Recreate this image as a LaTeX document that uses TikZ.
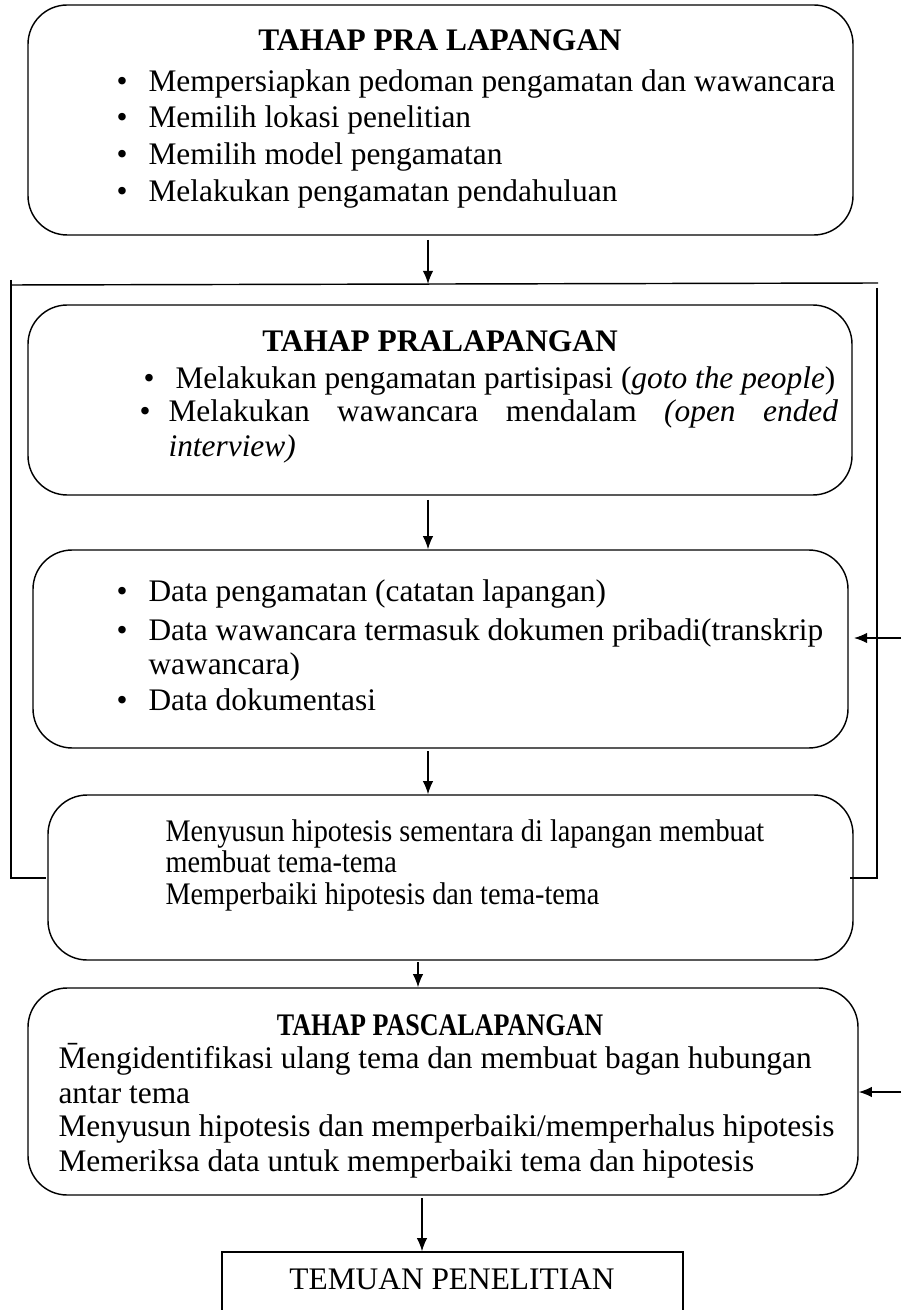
\documentclass[tikz,border=0pt]{standalone}
\usepackage{fontspec}
\setmainfont{Liberation Serif}
\usetikzlibrary{arrows.meta,fit}
\begin{document}
\begin{tikzpicture}[x=0.3823pt,y=-0.3823pt,
  box/.style={draw,line width=0.55pt,rounded corners=15pt,inner sep=0pt},
  plainbox/.style={draw,line width=0.55pt,inner sep=0pt},
  txt/.style={anchor=mid west,inner sep=0pt,font=\fontsize{12}{13.8}\selectfont},
  ttl/.style={anchor=mid,inner sep=0pt,font=\fontsize{12}{13.8}\selectfont\bfseries},
  arr/.style={line width=0.55pt,-{Latex[length=5pt,width=4pt]}},
  frm/.style={line width=0.55pt}]
\useasboundingbox (0,0) rectangle (901,1310);
% boxes
\node[box,fit={(28,5) (853,235)}] (b1) {};
\node[box,fit={(28,305) (852,495)}] (b2) {};
\node[box,fit={(33,550) (848,748)}] (b3) {};
\node[box,fit={(48,795) (853,960)}] (b4) {};
\node[box,fit={(28,988) (858,1195)}] (b5) {};
\node[plainbox,fit={(222,1252) (683,1340)}] (b6) {};
% frame (feedback loop)
\coordinate (ftl) at (11,285);
\coordinate (ftr) at (878,283);
\coordinate (fbl) at (11,878);
\coordinate (fblend) at (46,878);
\coordinate (frt) at (877,288);
\coordinate (fbr) at (877,878);
\coordinate (fbrend) at (850,878);
\coordinate (fa1) at (428,284);
\draw[frm] (11,280) -- (fbl) -- (fblend);
\draw[frm] (ftl) -- (ftr);
\draw[frm] (frt) -- (fbr) -- (fbrend);
% vertical connectors
\coordinate (a1s) at (428,240);
\coordinate (a2s) at (428,500);
\coordinate (a3s) at (428,751);
\coordinate (a4s) at (418,962);
\coordinate (a5s) at (422,1198);
\draw[arr] (a1s) -- (fa1);
\draw[arr] (a2s) -- (b3.north -| a2s);
\draw[arr] (a3s) -- (b4.north -| a3s);
\draw[arr] (a4s) -- (b5.north -| a4s);
\draw[arr] (a5s) -- (b6.north -| a5s);
% side connectors
\coordinate (r1) at (901,638);
\coordinate (r2) at (901,1092);
\draw[arr,shorten >=2pt] (r1) -- (b3.east |- r1);
\draw[arr] (r2) -- (b5.east |- r2);
% box 1 text
\node[ttl] (t1) at (440,45) {TAHAP PRA LAPANGAN};
\node[txt] (k11) at (116,86) {\textbullet};
\node[txt] (k12) at (116,122) {\textbullet};
\node[txt] (k13) at (116,159) {\textbullet};
\node[txt] (k14) at (116,196) {\textbullet};
\node[txt] (l11) at (148,86) {Mempersiapkan pedoman pengamatan dan wawancara};
\node[txt] (l12) at (148,122) {Memilih lokasi penelitian};
\node[txt] (l13) at (148,159) {Memilih model pengamatan};
\node[txt] (l14) at (148,196) {Melakukan pengamatan pendahuluan};
% box 2 text
\node[ttl] (t2) at (440,345) {TAHAP PRALAPANGAN};
\node[txt] (k21) at (143,382) {\textbullet};
\node[txt] (k22) at (139,416) {\textbullet};
\node[txt] (l21) at (175,382) {Melakukan pengamatan partisipasi (\textit{goto the people})};
\node[txt] (l22) at (168,416) {\hbox to 256pt{Melakukan\hfill wawancara\hfill mendalam\hfill \textit{(open}\hfill \textit{ended}}};
\node[txt] (l23) at (168,450) {\textit{interview)}};
% box 3 text
\node[txt] (k31) at (116,595) {\textbullet};
\node[txt] (k32) at (116,634) {\textbullet};
\node[txt] (k33) at (116,704) {\textbullet};
\node[txt] (l31) at (148,595) {Data pengamatan (catatan lapangan)};
\node[txt] (l32) at (148,634) {Data wawancara termasuk dokumen pribadi(transkrip};
\node[txt] (l33) at (148,668) {wawancara)};
\node[txt] (l34) at (148,704) {Data dokumentasi};
% box 4 text
\node[txt] (l41) at (165,835) {\scalebox{0.9}[1]{Menyusun hipotesis sementara di lapangan membuat}};
\node[txt] (l42) at (165,866) {\scalebox{0.9}[1]{membuat tema-tema}};
\node[txt] (l43) at (165,898) {\scalebox{0.9}[1]{Memperbaiki hipotesis dan tema-tema}};
% box 5 text
\node[ttl] (t5) at (440,1029) {\scalebox{0.83}[1]{TAHAP PASCALAPANGAN}};
\node[txt] (l51) at (58,1062) {\={M}engidentifikasi ulang tema dan membuat bagan hubungan};
\node[txt] (l52) at (58,1097) {antar tema};
\node[txt] (l53) at (58,1130) {Menyusun hipotesis dan memperbaiki/memperhalus hipotesis};
\node[txt] (l54) at (58,1165) {Memeriksa data untuk memperbaiki tema dan hipotesis};
% box 6 text
\node[anchor=mid,inner sep=0pt,font=\fontsize{12}{13.8}\selectfont] (t6) at (452,1283) {TEMUAN PENELITIAN};
\end{tikzpicture}
\end{document}
